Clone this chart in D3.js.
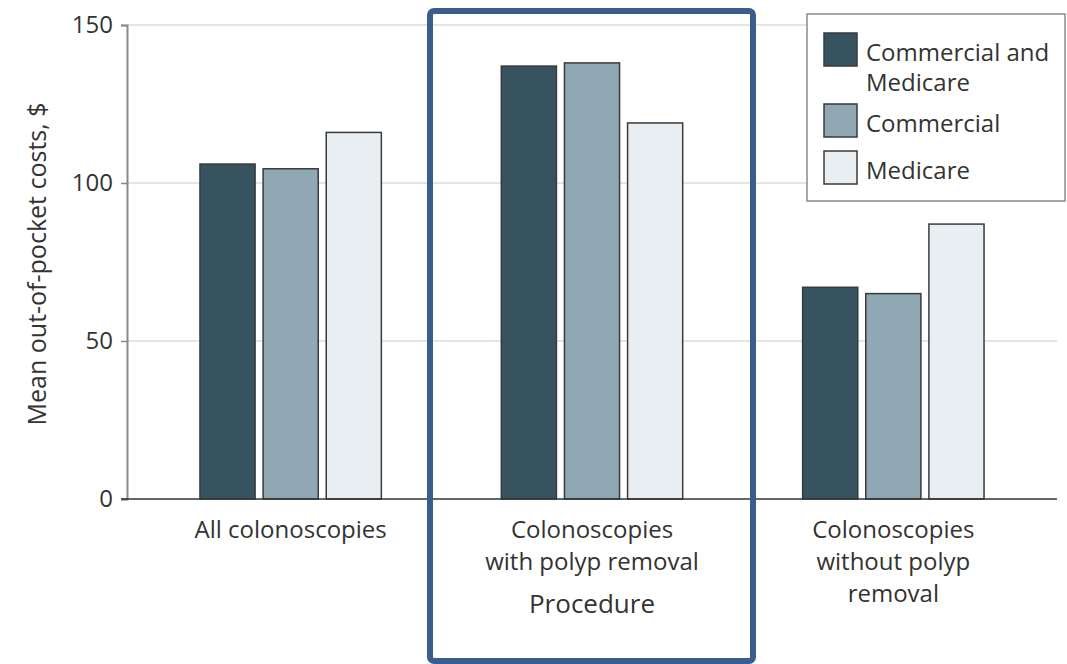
<!DOCTYPE html>
<html>
<head>
<meta charset="utf-8">
<script src="https://cdn.jsdelivr.net/npm/d3@7"></script>
<style>
  body { margin: 0; background: #fff; }
  text { font-family: "Open Sans", "Noto Sans", sans-serif; fill: #333; }
</style>
</head>
<body>
<div id="chart"></div>
<script>
// Data
const procedures = ["All colonoscopies", "Colonoscopies with polyp removal", "Colonoscopies without polyp removal"];
const procedureLines = [["All colonoscopies"], ["Colonoscopies", "with polyp removal"], ["Colonoscopies", "without polyp", "removal"]];
const payers = ["Commercial and Medicare", "Commercial", "Medicare"];
const payerLines = [["Commercial and", "Medicare"], ["Commercial"], ["Medicare"]];
const costsCommercialAndMedicare = [106, 137, 67];
const costsCommercial = [104.5, 138, 65];
const costsMedicare = [116, 119, 87];
const yTicks = [0, 50, 100, 150];

const seriesValues = [costsCommercialAndMedicare, costsCommercial, costsMedicare];
const colors = ["#36535f", "#8fa8b3", "#e8eef2"];

const width = 1067, height = 664;
const margin = { top: 25, bottom: 165, left: 127, right: 10 };
const plotBottom = height - margin.bottom;

const svg = d3.select("#chart")
  .append("svg")
  .attr("width", width)
  .attr("height", height);

const y = d3.scaleLinear().domain([0, 150]).range([plotBottom, margin.top]);
const x0 = d3.scaleBand().domain(procedures).range([140, 1044]);
const x1 = d3.scaleBand().domain(payers).range([0, x0.bandwidth()]).paddingInner(0.127).paddingOuter(0.95);

// gridlines
svg.append("g")
  .selectAll("line")
  .data(yTicks.filter(d => d > 0))
  .join("line")
  .attr("x1", margin.left)
  .attr("x2", 1057)
  .attr("y1", d => y(d))
  .attr("y2", d => y(d))
  .attr("stroke", "#dcdcdc")
  .attr("stroke-width", 1.5);

// bars
const rows = procedures.map((p, i) => payers.map((s, j) => ({ proc: p, payer: s, j: j, value: seriesValues[j][i] })));
svg.append("g")
  .selectAll("g")
  .data(rows)
  .join("g")
  .attr("transform", (d, i) => `translate(${x0(procedures[i])},0)`)
  .selectAll("rect")
  .data(d => d)
  .join("rect")
  .attr("x", d => x1(d.payer))
  .attr("width", x1.bandwidth())
  .attr("y", d => y(d.value))
  .attr("height", d => y(0) - y(d.value))
  .attr("fill", d => colors[d.j])
  .attr("stroke", "#3a3a3a")
  .attr("stroke-width", 1.5);

// y axis
const yAxis = svg.append("g")
  .attr("transform", `translate(${margin.left},0)`)
  .call(d3.axisLeft(y).tickValues(yTicks).tickSize(6).tickPadding(8));
yAxis.select(".domain").attr("stroke", "#8a8a8a").attr("stroke-width", 2);
yAxis.selectAll(".tick line").attr("stroke", "#8a8a8a").attr("stroke-width", 1.5);
yAxis.selectAll(".tick text").style("font-size", "24px").attr("fill", "#333");

// baseline
svg.append("line")
  .attr("x1", margin.left - 6)
  .attr("x2", 1057)
  .attr("y1", y(0))
  .attr("y2", y(0))
  .attr("stroke", "#333")
  .attr("stroke-width", 1.5);

// y label
svg.append("text")
  .attr("transform", `translate(46,${(y(0) + y(150)) / 2 + 2}) rotate(-90)`)
  .attr("text-anchor", "middle")
  .style("font-size", "25px")
  .text("Mean out-of-pocket costs, $");

// x category labels
procedures.forEach((p, i) => {
  svg.append("text")
    .attr("x", x0(p) + x0.bandwidth() / 2)
    .attr("y", 538)
    .attr("text-anchor", "middle")
    .style("font-size", "24px")
    .selectAll("tspan")
    .data(procedureLines[i])
    .join("tspan")
    .attr("x", x0(p) + x0.bandwidth() / 2)
    .attr("dy", (d, k) => k === 0 ? 0 : 32)
    .text(d => d);
});

// x axis title
svg.append("text")
  .attr("x", x0(procedures[1]) + x0.bandwidth() / 2)
  .attr("y", 613)
  .attr("text-anchor", "middle")
  .style("font-size", "26px")
  .text("Procedure");

// highlight box
svg.append("rect")
  .attr("x", 430)
  .attr("y", 11)
  .attr("width", 323)
  .attr("height", 650)
  .attr("rx", 4)
  .attr("fill", "none")
  .attr("stroke", "#3a5d8c")
  .attr("stroke-width", 6);

// legend
const legend = svg.append("g");
legend.append("rect")
  .attr("x", 807)
  .attr("y", 14)
  .attr("width", 258)
  .attr("height", 187)
  .attr("fill", "#fff")
  .attr("stroke", "#8a8a8a")
  .attr("stroke-width", 1.5);

const swatchY = [33, 104, 151];
const textY = [[61, 91], [132], [179]];
payers.forEach((s, j) => {
  legend.append("rect")
    .attr("x", 824)
    .attr("y", swatchY[j])
    .attr("width", 33)
    .attr("height", 33)
    .attr("fill", colors[j])
    .attr("stroke", "#3a3a3a")
    .attr("stroke-width", 1.5);
  payerLines[j].forEach((line, k) => {
    legend.append("text")
      .attr("x", 866)
      .attr("y", textY[j][k])
      .style("font-size", "24px")
      .text(line);
  });
});
</script>
</body>
</html>
